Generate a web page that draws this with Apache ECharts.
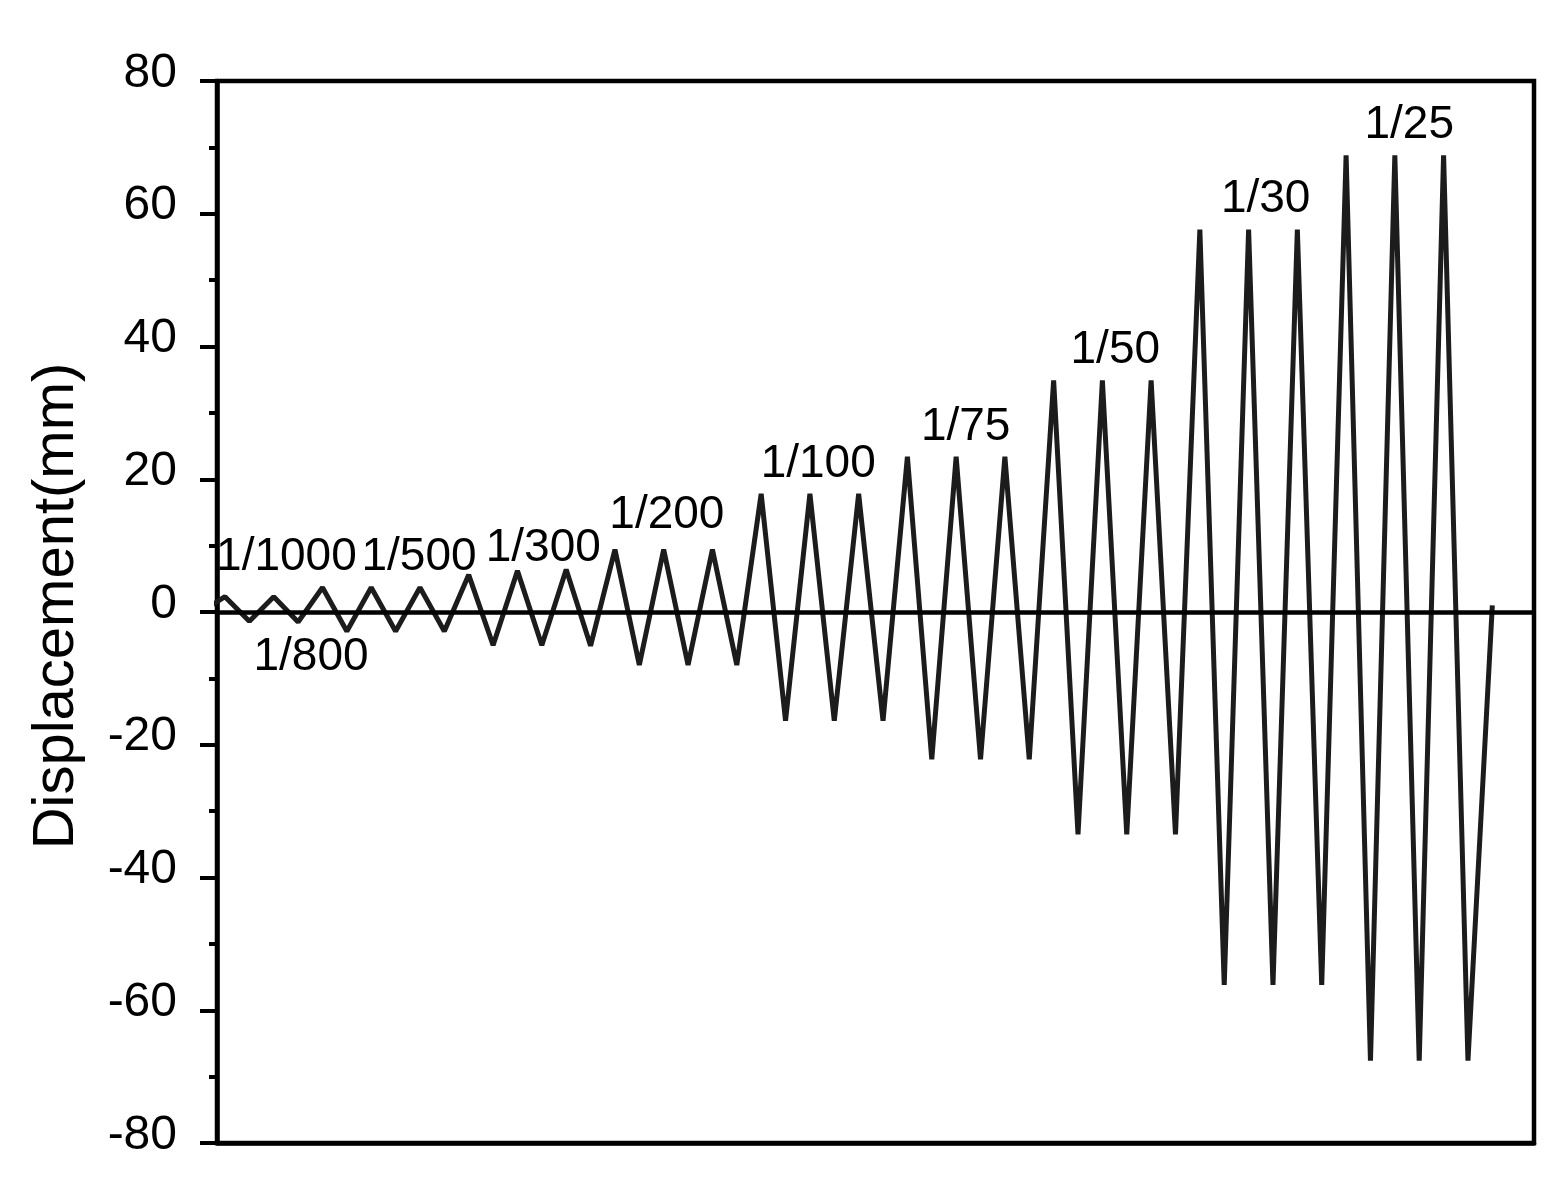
<!DOCTYPE html>
<html>
<head>
<meta charset="utf-8">
<script src="https://cdn.jsdelivr.net/npm/echarts@6/dist/echarts.min.js"></script>
<style>
html,body{margin:0;padding:0;background:#fff;}
#chart{width:1562px;height:1192px;}
</style>
</head>
<body>
<div id="chart"></div>
<script>
// x: half-cycle index (peak / valley positions), y: displacement in mm
const halfCycle = [0, 1, 2, 3, 4, 5, 6, 7, 8, 9, 10, 11, 12, 13, 14, 15, 16, 17, 18, 19, 20,
  21, 22, 23, 24, 25, 26, 27, 28, 29, 30, 31, 32, 33, 34, 35, 36, 37, 38, 39, 40,
  41, 42, 43, 44, 45, 46, 47, 48, 49, 50, 51, 52, 53];
const displacement = [0,
  2.3, -1.4,                                   // 1/1000
  2.3, -1.5,                                   // 1/800
  3.7, -2.9, 3.7, -2.9, 3.7, -2.9,             // 1/500
  5.6, -5.0, 6.2, -5.0, 6.4, -5.1,             // 1/300
  9.4, -8.0, 9.4, -8.0, 9.4, -8.0,             // 1/200
  17.8, -16.4, 17.8, -16.4, 17.8, -16.4,       // 1/100
  23.4, -22.2, 23.4, -22.2, 23.4, -22.2,       // 1/75
  34.9, -33.5, 34.9, -33.5, 34.9, -33.5,       // 1/50
  57.6, -56.2, 57.6, -56.2, 57.6, -56.2,       // 1/30
  68.8, -67.6, 68.8, -67.6, 68.8, -67.6,       // 1/25
  1.0];
const driftLabels = ['1/1000', '1/800', '1/500', '1/300', '1/200', '1/100', '1/75', '1/50', '1/30', '1/25'];
const driftLabelX = [3.52, 4.53, 8.96, 14.06, 19.13, 25.34, 31.39, 37.53, 43.7, 49.59];
const driftLabelY = [8.2, -6.85, 8.3, 9.6, 14.6, 22.3, 27.9, 39.4, 62.1, 73.3];
const yTicks = [-80, -60, -40, -20, 0, 20, 40, 60, 80];

const lineData = halfCycle.map((x, i) => [x, displacement[i]]);
const labelData = driftLabels.map((t, i) => ({ name: t, value: [driftLabelX[i], driftLabelY[i]] }));

const FONT = "'Liberation Sans', Arial, sans-serif";
const chart = echarts.init(document.getElementById('chart'), null, { renderer: 'canvas' });
chart.setOption({
  animation: false,
  backgroundColor: '#ffffff',
  grid: {
    left: 217, right: 28, top: 81, bottom: 49,
    show: true, borderColor: '#000', borderWidth: 4.5, backgroundColor: 'transparent'
  },
  xAxis: {
    type: 'value', min: 0.672, max: 54.71,
    axisLine: { show: true, onZero: false, lineStyle: { color: '#000', width: 4.5 } },
    axisTick: { show: false }, axisLabel: { show: false }, splitLine: { show: false }
  },
  yAxis: {
    type: 'value', min: yTicks[0], max: yTicks[yTicks.length - 1], interval: 20,
    name: 'Displacement(mm)', nameLocation: 'middle', nameGap: 131,
    nameTextStyle: { fontSize: 58, fontFamily: FONT, color: '#000', padding: [0, 0, 0, 12] },
    axisLine: { show: true, onZero: false, lineStyle: { color: '#000', width: 4.5 } },
    axisTick: { show: true, length: 17, lineStyle: { color: '#000', width: 4 } },
    minorTick: { show: true, splitNumber: 2, length: 8, lineStyle: { color: '#000', width: 4 } },
    axisLabel: { fontSize: 48, fontFamily: FONT, color: '#000', margin: 40, verticalAlign: 'bottom', lineHeight: 15 },
    splitLine: { show: false }
  },
  series: [
    {
      type: 'line', data: lineData, symbol: 'none', silent: true,
      lineStyle: { color: '#1c1c1c', width: 5 },
      markLine: {
        silent: true, symbol: ['none', 'none'], label: { show: false },
        lineStyle: { color: '#000', width: 4.5, type: 'solid' },
        data: [{ yAxis: 0 }]
      }
    },
    {
      type: 'scatter', data: labelData, symbolSize: 1, silent: true,
      itemStyle: { color: 'rgba(0,0,0,0)' },
      label: {
        show: true, position: 'inside', formatter: '{b}',
        fontSize: 46, fontFamily: FONT, color: '#000', opacity: 1
      }
    }
  ]
});
</script>
</body>
</html>
